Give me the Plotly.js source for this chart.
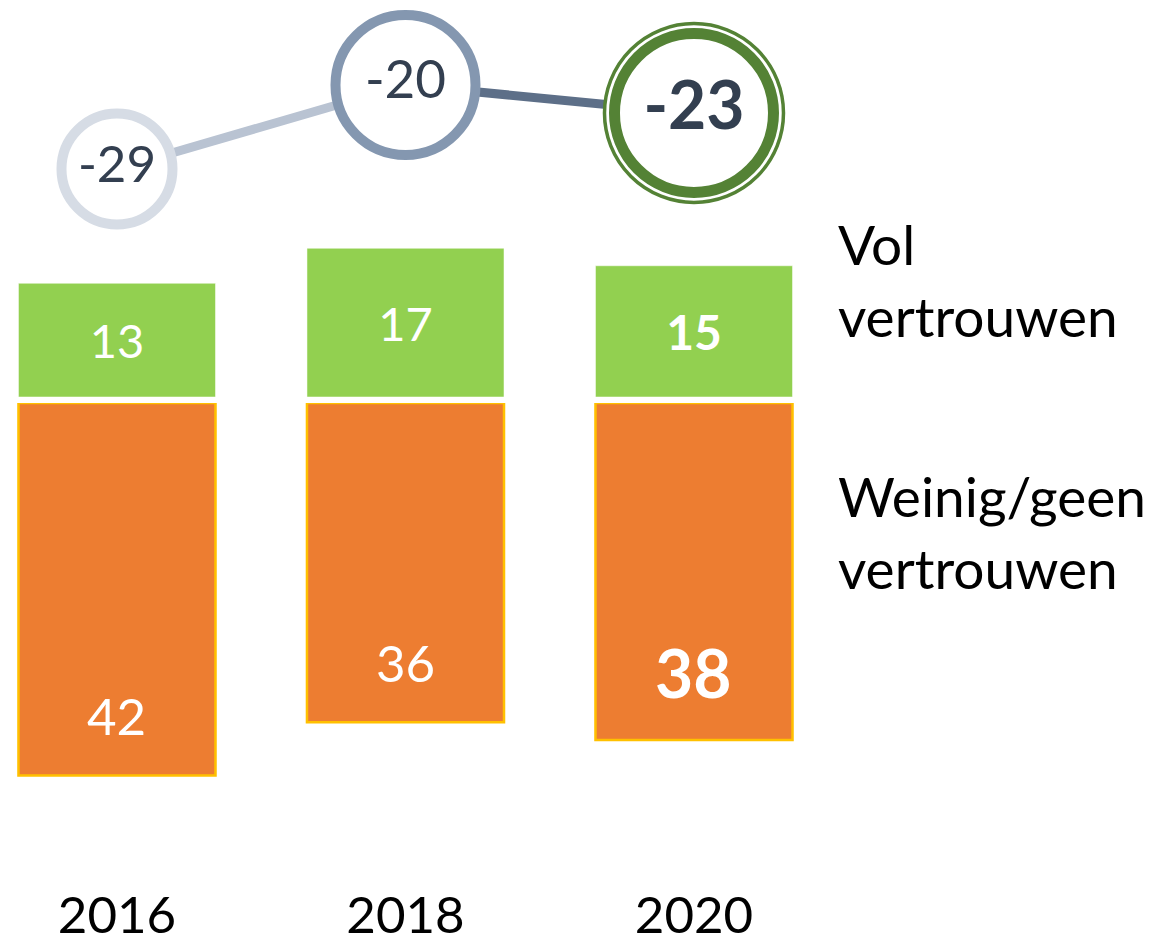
<!DOCTYPE html>
<html>
<head>
<meta charset="utf-8">
<script src="https://cdn.plot.ly/plotly-3.0.1.min.js"></script>
<style>html,body{margin:0;padding:0;background:#fff;}#chart{width:1153px;height:946px;}</style>
</head>
<body>
<div id="chart"></div>
<script>
// ---- data ----
const years = ['2016', '2018', '2020'];
const volVertrouwen = [13, 17, 15];          // green, upward
const weinigGeenVertrouwen = [42, 36, 38];   // orange, downward
const saldo = [-29, -20, -23];               // circles
const seriesNames = ['Vol<br>vertrouwen', 'Weinig/geen<br>vertrouwen'];

// ---- styles ----
const FONT = 'Lato, "Open Sans", sans-serif';
const GREEN = '#92d050', ORANGE = '#ed7d31', GOLD = '#ffc000', NAVY = '#333f50';
const lastIdx = years.length - 1;
const fmt = (v, i) => i === lastIdx ? '<b>' + v + '</b>' : String(v);

const traces = [
  {
    type: 'bar', x: years, y: weinigGeenVertrouwen, xaxis: 'x', yaxis: 'y',
    width: 0.683, marker: {color: ORANGE, line: {color: GOLD, width: 2.5}},
    hoverinfo: 'skip', showlegend: false
  },
  {
    type: 'bar', x: years, y: volVertrouwen, xaxis: 'x', yaxis: 'y2',
    width: 0.683, marker: {color: GREEN, line: {color: 'rgba(255,255,255,0.5)', width: 1}},
    text: volVertrouwen.map(fmt), textposition: 'inside', insidetextanchor: 'middle',
    textfont: {family: FONT, color: '#ffffff', size: volVertrouwen.map((v, i) => i === lastIdx ? 48 : 47)},
    hoverinfo: 'skip', showlegend: false
  },
  // connecting segments (drawn under circles)
  {
    type: 'scatter', mode: 'lines', x: years.slice(0, 2), y: saldo.slice(0, 2), xaxis: 'x', yaxis: 'y3',
    line: {color: '#b9c3d2', width: 9}, hoverinfo: 'skip', showlegend: false, cliponaxis: false
  },
  {
    type: 'scatter', mode: 'lines', x: years.slice(1), y: saldo.slice(1), xaxis: 'x', yaxis: 'y3',
    line: {color: '#5d6f88', width: 9}, hoverinfo: 'skip', showlegend: false, cliponaxis: false
  },
  // outer thin ring of the last circle
  {
    type: 'scatter', mode: 'markers', x: years.slice(lastIdx), y: saldo.slice(lastIdx), xaxis: 'x', yaxis: 'y3',
    marker: {size: 179, color: '#ffffff', opacity: 1, line: {color: '#548235', width: 3.5}},
    hoverinfo: 'skip', showlegend: false, cliponaxis: false
  },
  {
    type: 'scatter', mode: 'markers+text', x: years, y: saldo, xaxis: 'x', yaxis: 'y3',
    marker: {size: [111, 140, 159], color: '#ffffff', opacity: 1,
             line: {color: ['#d6dce5', '#8497b0', '#548235'], width: [10, 10, 11]}},
    text: saldo.map(fmt), textposition: 'middle center',
    textfont: {family: FONT, color: NAVY, size: [51, 53, 66]},
    hoverinfo: 'skip', showlegend: false, cliponaxis: false
  }
];

// orange value labels, placed near the lower end of each bar (category index for x)
const annotations = weinigGeenVertrouwen.map((v, i) => ({
  x: i, y: v, xref: 'x', yref: 'y', yshift: i === lastIdx ? 68 : 60, showarrow: false,
  text: fmt(v, i), font: {family: FONT, color: '#ffffff', size: i === lastIdx ? 66 : 51}
}));
annotations.push(
  {xref: 'paper', yref: 'paper', x: 836 / 1153, y: 1 - 280 / 946, xanchor: 'left', yanchor: 'middle',
   align: 'left', showarrow: false, text: seriesNames[0], font: {family: FONT, color: '#000000', size: 55}},
  {xref: 'paper', yref: 'paper', x: 836 / 1153, y: 1 - 532 / 946, xanchor: 'left', yanchor: 'middle',
   align: 'left', showarrow: false, text: seriesNames[1], font: {family: FONT, color: '#000000', size: 55}}
);

const layout = {
  width: 1153, height: 946,
  margin: {l: 0, r: 0, t: 0, b: 0},
  paper_bgcolor: '#ffffff', plot_bgcolor: 'rgba(0,0,0,0)',
  showlegend: false,
  barmode: 'overlay',
  font: {family: FONT},
  xaxis: {
    type: 'category', domain: [0, 1], range: [-0.4055, 3.591], anchor: 'y',
    showgrid: false, zeroline: false, showline: false, ticks: '',
    tickfont: {family: FONT, size: 51, color: '#000000'}
  },
  yaxis: {
    domain: [(946 - 881) / 946, (946 - 403) / 946], range: [53.89, 0],
    showgrid: false, zeroline: false, showticklabels: false, showline: false
  },
  yaxis2: {
    domain: [(946 - 397) / 946, 1], range: [0, 45.37], anchor: 'x',
    showgrid: false, zeroline: false, showticklabels: false, showline: false
  },
  yaxis3: {
    overlaying: 'y2', range: [-53.44, -10.89], anchor: 'x',
    showgrid: false, zeroline: false, showticklabels: false, showline: false
  },
  annotations: annotations
};

Plotly.newPlot('chart', traces, layout, {staticPlot: true, displayModeBar: false});
</script>
</body>
</html>
